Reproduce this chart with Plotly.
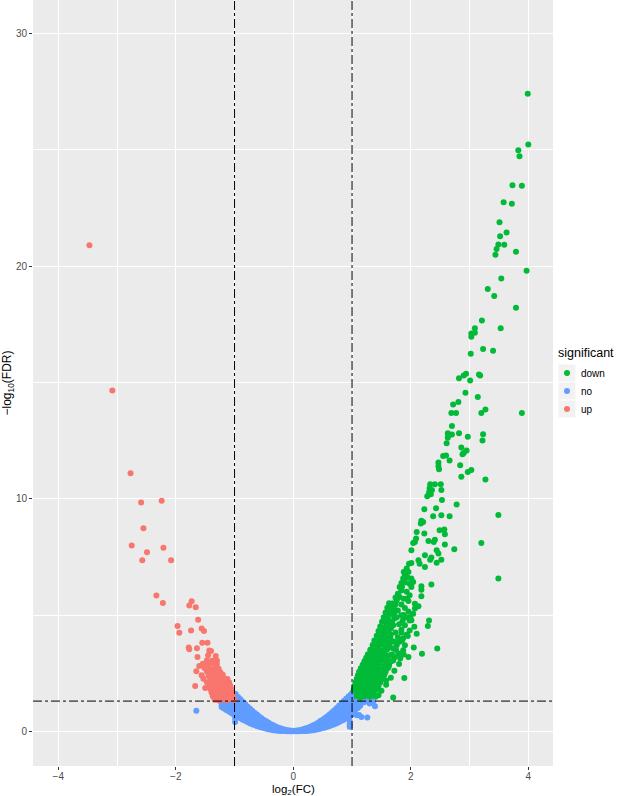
import math
import plotly.graph_objects as go

# thresholds
fc_cut = 1.0
fdr_cut = 0.05
fdr_line = -math.log10(fdr_cut)

# ---- "down" (green) ----
down_x = [3.99, 4.00, 3.83, 3.85, 3.73, 3.89, 3.58, 3.72, 3.51, 3.63, 3.52, 3.49, 3.59, 3.46, 3.79, 3.44,
          3.97, 3.54, 3.31, 3.42, 3.79, 3.21, 3.09, 3.53, 3.03, 3.09, 3.03, 3.23, 3.40, 3.02,
          2.82, 2.90, 2.94, 3.01, 3.16, 3.18, 2.93, 3.14, 2.72, 2.81, 2.69, 2.77, 3.20, 3.27, 3.89,
          2.70, 2.63, 2.64, 2.63, 2.70, 2.82, 2.97, 3.23, 3.22, 2.61, 2.86, 2.95, 2.90, 2.88, 2.55, 2.60,
          2.66, 2.47, 2.47, 2.48, 2.84, 2.97, 3.03, 2.86, 3.27, 2.33, 2.41, 2.51, 2.32, 2.36, 2.52, 2.31,
          2.28, 2.34, 2.53, 2.78, 2.43, 2.23,
          3.49, 3.20, 3.49,
          2.38, 2.52, 2.66, 2.18, 2.17, 2.21, 2.10, 2.49, 2.57, 2.23, 2.58, 2.09, 2.04, 2.07, 2.30, 2.41,
          2.39, 2.58, 2.74, 2.01, 2.44, 2.47, 2.24, 2.35, 2.33, 2.52, 2.13, 2.15, 2.44, 2.01, 2.24, 1.93,
          1.96, 1.90, 1.87, 1.84, 2.01, 2.04, 1.98, 2.01, 2.35, 2.18, 2.18, 2.18, 1.81, 1.84, 1.78, 1.81,
          1.76, 1.93, 1.98, 1.93, 1.96, 2.07, 2.13, 2.07, 1.74, 1.71, 1.73, 1.70, 1.72, 1.68, 1.70, 1.66,
          1.90, 1.96, 1.88, 1.99, 2.04, 2.01, 1.84, 2.31, 2.29, 1.98, 1.90, 1.84, 1.98, 1.62, 1.66, 1.60,
          1.93, 1.87, 1.81, 1.90, 1.76, 1.70, 1.87, 1.79, 1.73, 1.82, 1.96, 2.19, 2.45, 1.89, 1.70,
          1.72, 1.78, 1.84, 1.66, 1.74, 1.80, 1.76, 1.86, 1.92, 1.78, 1.84, 1.88, 1.74, 1.69, 1.67, 1.85,
          1.90, 1.95, 1.88, 1.97, 1.62, 1.68, 1.75, 1.85, 1.95, 1.80, 1.72, 1.66, 1.58, 1.50, 1.45, 1.55,
          1.62, 1.70, 1.88, 2.05, 2.10, 2.06,
          1.01, 1.06, 1.11, 1.17, 1.23, 1.29,
          1.02, 1.08, 1.14, 1.20, 1.27, 1.33, 1.40,
          1.01, 1.05, 1.11, 1.18, 1.24, 1.31, 1.37,
          1.03, 1.09, 1.15, 1.21, 1.28, 1.35, 1.42,
          1.04, 1.10, 1.17, 1.24, 1.30, 1.38, 1.45,
          1.06, 1.13, 1.19, 1.26, 1.33, 1.40, 1.48,
          1.08, 1.14, 1.21, 1.28, 1.35, 1.43, 1.51, 1.58,
          1.10, 1.17, 1.24, 1.31, 1.38, 1.46, 1.54,
          1.12, 1.19, 1.26, 1.33, 1.41, 1.49, 1.57,
          1.15, 1.22, 1.29, 1.36, 1.44, 1.52, 1.60,
          1.18, 1.25, 1.32, 1.39, 1.46, 1.55, 1.63,
          1.21, 1.28, 1.35, 1.42, 1.49, 1.57, 1.66,
          1.24, 1.31, 1.38, 1.45, 1.52, 1.60,
          1.27, 1.34, 1.41, 1.48, 1.56, 1.64,
          1.31, 1.38, 1.45, 1.52, 1.60,
          1.35, 1.42, 1.49, 1.56, 1.64,
          1.38, 1.45, 1.52, 1.59,
          1.42, 1.49, 1.56,
          1.45, 1.52, 1.58,
          1.48, 1.55, 1.62,
          1.51, 1.58, 1.64,
          1.54, 1.61,
          1.57, 1.64,
          1.60, 1.66,
          1.63, 1.69]
down_y = [27.41, 25.23, 24.98, 24.72, 23.48, 23.45, 22.75, 22.68, 21.89, 21.45, 21.28, 20.93, 20.92, 20.74, 20.62, 20.49,
          19.80, 19.47, 19.02, 18.72, 18.21, 17.66, 17.33, 17.33, 17.10, 17.13, 16.96, 16.44, 16.36, 16.23,
          15.18, 15.30, 15.37, 15.08, 15.34, 15.30, 14.56, 14.37, 14.05, 14.16, 13.68, 13.68, 13.68, 13.84, 13.69,
          13.13, 12.82, 12.72, 12.62, 12.76, 12.82, 12.66, 12.77, 12.50, 12.39, 12.20, 12.07, 11.97, 11.91, 11.84, 11.86,
          11.64, 11.56, 11.41, 11.27, 11.44, 11.15, 11.23, 10.95, 10.83, 10.62, 10.62, 10.62, 10.45, 10.37, 10.37, 10.27,
          10.11, 10.19, 9.95, 9.75, 9.59, 9.55,
          9.30, 8.10, 6.57,
          9.25, 9.29, 9.25, 9.05, 8.93, 9.00, 8.57, 8.65, 8.68, 8.50, 8.47, 8.29, 8.10, 8.14, 8.18, 8.24,
          8.14, 8.03, 7.83, 7.78, 7.78, 7.64, 7.57, 7.47, 7.38, 7.38, 7.35, 7.21, 7.25, 7.24, 7.07, 7.00,
          6.85, 6.71, 6.57, 6.38, 6.57, 6.42, 6.35, 6.21, 6.31, 6.24, 6.09, 5.81, 6.21, 6.06, 5.92, 5.78,
          5.63, 6.00, 5.85, 5.70, 5.60, 5.49, 5.38, 5.28, 5.45, 5.30, 5.15, 5.00, 4.85, 4.70, 4.56, 4.42,
          5.30, 5.15, 5.00, 4.92, 5.05, 4.78, 4.99, 4.77, 4.53, 4.77, 4.56, 4.37, 4.34, 4.30, 4.15, 4.00,
          4.15, 4.00, 3.85, 3.70, 3.70, 3.56, 3.49, 3.35, 3.20, 3.13, 3.20, 3.34, 3.56, 2.29, 1.46,
          3.85, 4.05, 4.25, 3.95, 4.25, 4.60, 4.90, 4.75, 4.90, 5.20, 5.45, 5.70, 5.75, 5.50, 5.20, 6.20,
          6.40, 6.60, 6.85, 7.20, 3.60, 3.30, 3.50, 3.90, 4.10, 2.90, 2.60, 2.30, 2.00, 1.75, 1.55, 2.45,
          2.75, 3.05, 3.30, 3.60, 4.20, 4.50,
          1.36, 1.33, 1.38, 1.34, 1.37, 1.33,
          1.52, 1.49, 1.53, 1.50, 1.47, 1.52, 1.49,
          1.66, 1.63, 1.67, 1.64, 1.68, 1.62, 1.66,
          1.81, 1.78, 1.82, 1.79, 1.83, 1.77, 1.80,
          1.96, 1.93, 1.97, 1.94, 1.98, 1.92, 1.95,
          2.11, 2.08, 2.12, 2.09, 2.13, 2.07, 2.10,
          2.26, 2.23, 2.27, 2.24, 2.28, 2.22, 2.25, 2.19,
          2.41, 2.38, 2.42, 2.39, 2.43, 2.37, 2.40,
          2.56, 2.53, 2.57, 2.54, 2.58, 2.52, 2.55,
          2.71, 2.68, 2.72, 2.69, 2.73, 2.67, 2.70,
          2.86, 2.83, 2.87, 2.84, 2.88, 2.82, 2.85,
          3.01, 2.98, 3.02, 2.99, 3.03, 2.97, 3.00,
          3.16, 3.13, 3.17, 3.14, 3.18, 3.12,
          3.31, 3.28, 3.32, 3.29, 3.33, 3.27,
          3.51, 3.48, 3.52, 3.49, 3.53,
          3.71, 3.68, 3.72, 3.69, 3.73,
          3.91, 3.88, 3.92, 3.89,
          4.11, 4.08, 4.12,
          4.31, 4.28, 4.32,
          4.51, 4.48, 4.52,
          4.71, 4.68, 4.72,
          4.91, 4.88,
          5.11, 5.08,
          5.31, 5.28,
          5.51, 5.48]

# ---- "no" (blue): the dense band, one column of y values per x position ----
no_band_x = [-1.22, -1.18, -1.14, -1.10, -1.06, -1.02, -0.99, -0.98, -0.94, -0.90, -0.86, -0.82, -0.78,
             -0.74, -0.70, -0.66, -0.62, -0.58, -0.54, -0.50, -0.46, -0.42, -0.38, -0.34, -0.30,
             -0.26, -0.22, -0.18, -0.14, -0.10, -0.06, -0.02,
             0.02, 0.06, 0.10, 0.14, 0.18, 0.22, 0.26, 0.30, 0.34, 0.38, 0.42, 0.46, 0.50,
             0.54, 0.58, 0.62, 0.66, 0.70, 0.74, 0.78, 0.82, 0.86, 0.90, 0.94, 0.98, 0.96]
no_band_y = [
    [1.05, 1.15, 1.25],
    [0.98, 1.08, 1.18, 1.27],
    [0.92, 1.02, 1.12, 1.22, 1.28],
    [0.86, 0.97, 1.08, 1.18, 1.28],
    [0.80, 0.92, 1.04, 1.16, 1.28],
    [0.74, 0.86, 0.98, 1.10, 1.22, 1.30],
    [0.40, 0.55],
    [0.68, 0.81, 0.94, 1.07, 1.20, 1.33, 1.46, 1.60],
    [0.62, 0.74, 0.86, 0.98, 1.10, 1.22, 1.35, 1.48],
    [0.56, 0.68, 0.80, 0.92, 1.04, 1.16, 1.27, 1.38],
    [0.50, 0.62, 0.74, 0.86, 0.97, 1.08, 1.18, 1.27],
    [0.45, 0.56, 0.67, 0.78, 0.88, 0.98, 1.08, 1.17],
    [0.40, 0.50, 0.60, 0.70, 0.80, 0.90, 1.00, 1.07],
    [0.35, 0.45, 0.55, 0.65, 0.75, 0.85, 0.98],
    [0.31, 0.40, 0.49, 0.58, 0.67, 0.77, 0.89],
    [0.27, 0.36, 0.45, 0.54, 0.63, 0.72, 0.80],
    [0.23, 0.32, 0.41, 0.50, 0.59, 0.66, 0.72],
    [0.20, 0.29, 0.38, 0.47, 0.56, 0.64],
    [0.17, 0.25, 0.33, 0.41, 0.49, 0.56],
    [0.14, 0.22, 0.30, 0.38, 0.45, 0.49],
    [0.11, 0.19, 0.27, 0.35, 0.43],
    [0.09, 0.16, 0.23, 0.30, 0.37],
    [0.07, 0.13, 0.19, 0.25, 0.31],
    [0.05, 0.11, 0.17, 0.22, 0.26],
    [0.04, 0.09, 0.14, 0.21],
    [0.03, 0.08, 0.12, 0.17],
    [0.02, 0.07, 0.13],
    [0.01, 0.05, 0.10],
    [0.01, 0.04, 0.07],
    [0.00, 0.03, 0.05],
    [0.00, 0.02, 0.04],
    [0.00, 0.01, 0.03],
    [0.00, 0.01, 0.03],
    [0.00, 0.02, 0.04],
    [0.00, 0.03, 0.05],
    [0.01, 0.04, 0.07],
    [0.01, 0.05, 0.10],
    [0.02, 0.07, 0.13],
    [0.03, 0.08, 0.12, 0.17],
    [0.04, 0.09, 0.14, 0.21],
    [0.05, 0.11, 0.17, 0.26],
    [0.07, 0.13, 0.19, 0.25, 0.31],
    [0.09, 0.16, 0.23, 0.30, 0.37],
    [0.11, 0.19, 0.27, 0.35, 0.44],
    [0.14, 0.22, 0.30, 0.38, 0.50],
    [0.17, 0.25, 0.33, 0.41, 0.49, 0.57],
    [0.20, 0.29, 0.38, 0.47, 0.56, 0.65],
    [0.23, 0.32, 0.41, 0.50, 0.59, 0.66, 0.73],
    [0.27, 0.36, 0.45, 0.54, 0.63, 0.72, 0.82],
    [0.31, 0.40, 0.49, 0.58, 0.67, 0.77, 0.91],
    [0.35, 0.45, 0.55, 0.65, 0.75, 0.85, 1.00],
    [0.40, 0.50, 0.60, 0.70, 0.80, 0.90, 1.00, 1.10],
    [0.45, 0.56, 0.67, 0.78, 0.88, 0.98, 1.08, 1.20],
    [0.50, 0.62, 0.74, 0.86, 0.97, 1.08, 1.18, 1.30],
    [0.56, 0.68, 0.80, 0.92, 1.04, 1.16, 1.28, 1.40],
    [0.62, 0.74, 0.86, 0.98, 1.10, 1.22, 1.36, 1.50],
    [0.68, 0.81, 0.94, 1.07, 1.20, 1.33, 1.46, 1.58],
    [0.20, 0.30, 0.45],
]
# ---- "no" (blue): scattered points ----
no_x = [1.03, 1.05, 1.08, 1.10, 1.12, 1.16, 1.20, 1.25, 1.26, 1.30, 1.36, 1.39, 1.08, 1.14, 1.02, 1.04, 1.06, -1.65]
no_y = [1.20, 0.90, 1.22, 1.00, 0.70, 0.62, 1.25, 1.28, 0.59, 1.20, 1.28, 1.08, 0.69, 1.10, 0.75, 1.05, 1.28, 0.89]

# ---- "up" (red) ----
up_x = [-3.47, -3.08, -2.77, -2.59, -2.24, -2.55, -2.75, -2.49, -2.21, -2.57, -2.08, -2.33, -2.22,
        -1.73, -1.77, -1.66, -1.62, -1.97, -1.94, -1.74, -1.56, -1.52, -1.55, -1.46, -1.78, -1.77,
        -1.64, -1.43, -1.40, -1.63, -1.45, -1.32, -1.30, -1.65, -1.67, -1.50, -1.60,
        -1.34, -1.27, -1.20, -1.13, -1.06, -1.01,
        -1.37, -1.29, -1.22, -1.15, -1.08, -1.02,
        -1.39, -1.31, -1.24, -1.17, -1.10, -1.03,
        -1.41, -1.33, -1.26, -1.19, -1.12, -1.05,
        -1.43, -1.35, -1.28, -1.21, -1.14, -1.07,
        -1.47, -1.38, -1.30, -1.22, -1.15, -1.09,
        -1.53, -1.41, -1.33, -1.25, -1.18, -1.12,
        -1.56, -1.44, -1.36, -1.28, -1.20,
        -1.47, -1.39, -1.31, -1.24,
        -1.51, -1.42, -1.34, -1.27,
        -1.54, -1.45, -1.37, -1.30,
        -1.47, -1.38, -1.33]
up_y = [20.90, 14.65, 11.10, 9.84, 9.91, 8.73, 7.99, 7.70, 7.89, 7.35, 7.35, 5.84, 5.52,
        5.59, 5.41, 5.33, 4.80, 4.53, 4.24, 4.34, 4.42, 4.31, 3.81, 3.81, 3.60, 3.53,
        3.57, 3.48, 3.45, 3.20, 3.27, 3.24, 3.05, 2.58, 1.95, 1.86, 2.81,
        1.36, 1.33, 1.37, 1.34, 1.38, 1.35,
        1.51, 1.48, 1.52, 1.49, 1.53, 1.50,
        1.66, 1.63, 1.67, 1.64, 1.68, 1.65,
        1.81, 1.78, 1.82, 1.79, 1.83, 1.80,
        1.96, 1.93, 1.97, 1.94, 1.98, 1.95,
        2.11, 2.08, 2.12, 2.09, 2.13, 2.10,
        2.26, 2.23, 2.27, 2.24, 2.28, 2.25,
        2.41, 2.38, 2.42, 2.39, 2.43,
        2.56, 2.53, 2.57, 2.54,
        2.71, 2.68, 2.72, 2.69,
        2.91, 2.88, 2.92, 2.89,
        3.06, 3.03, 3.07]

x_ticks = [-4, -2, 0, 2, 4]
y_ticks = [0, 10, 20, 30]
legend_labels = ["down", "no", "up"]
legend_title = "significant"
x_title = "log<sub>2</sub>(FC)"
y_title = "\u2212log<sub>10</sub>(FDR)"

colors = {"down": "#00BA38", "no": "#619CFF", "up": "#F8766D"}

# flatten the blue band table
blue_x = [bx for bx, col in zip(no_band_x, no_band_y) for _ in col] + no_x
blue_y = [v for col in no_band_y for v in col] + no_y

fig = go.Figure()
fig.add_trace(go.Scatter(x=down_x, y=down_y, mode="markers", name="down", showlegend=False,
                         marker=dict(color=colors["down"], size=6, line=dict(width=0))))
fig.add_trace(go.Scatter(x=blue_x, y=blue_y, mode="markers", name="no", showlegend=False,
                         marker=dict(color=colors["no"], size=6, line=dict(width=0))))
fig.add_trace(go.Scatter(x=up_x, y=up_y, mode="markers", name="up", showlegend=False,
                         marker=dict(color=colors["up"], size=6, line=dict(width=0))))

line_style = dict(color="black", width=1, dash="dashdot")
for xv in (-fc_cut, fc_cut):
    fig.add_shape(type="line", x0=xv, x1=xv, y0=0, y1=1, xref="x", yref="y domain", line=line_style)
fig.add_shape(type="line", x0=0, x1=1, y0=fdr_line, y1=fdr_line, xref="x domain", yref="y", line=line_style)

# ---- manual ggplot-style legend (paper coordinates) ----
W, H = 622, 796
ML, MR, MT, MB = 33, 69, 0, 30
pw, ph = W - ML - MR, H - MT - MB


def px_x(px):
    return (px - ML) / pw


def px_y(py):
    return (H - MB - py) / ph


fig.add_annotation(text=legend_title, x=px_x(556), y=px_y(353), xref="paper", yref="paper",
                   xanchor="left", yanchor="middle", showarrow=False,
                   font=dict(size=12.5, color="black"))
key_cy = [373, 391, 409]
key_cx = 567
for lab, cy in zip(legend_labels, key_cy):
    fig.add_shape(type="rect", xref="paper", yref="paper",
                  x0=px_x(key_cx - 8.5), x1=px_x(key_cx + 8.5), y0=px_y(cy + 8.5), y1=px_y(cy - 8.5),
                  fillcolor="#F2F2F2", line=dict(width=0), layer="below")
    fig.add_shape(type="circle", xref="paper", yref="paper",
                  x0=px_x(key_cx - 3), x1=px_x(key_cx + 3), y0=px_y(cy + 3), y1=px_y(cy - 3),
                  fillcolor=colors[lab], line=dict(width=0))
    fig.add_annotation(text=lab, x=px_x(579), y=px_y(cy), xref="paper", yref="paper",
                       xanchor="left", yanchor="middle", showarrow=False,
                       font=dict(size=10, color="black"))

# x-axis title placed under the tick labels
fig.add_annotation(text=x_title, x=0.5, y=px_y(790), xref="paper", yref="paper",
                   xanchor="center", yanchor="middle", showarrow=False,
                   font=dict(size=11.5, color="black"))

font_family = "Liberation Sans, Arial, sans-serif"
fig.update_layout(
    width=W, height=H,
    margin=dict(l=ML, r=MR, t=MT, b=MB, autoexpand=False),
    paper_bgcolor="white", plot_bgcolor="#EBEBEB",
    font=dict(family=font_family, size=11, color="black"),
    showlegend=False,
    xaxis=dict(range=[-4.43, 4.42], tickmode="array", tickvals=x_ticks,
               ticktext=[("\u2212" + str(abs(v))) if v < 0 else str(v) for v in x_ticks],
               showgrid=True, gridcolor="white", gridwidth=1.1,
               minor=dict(dtick=1, tick0=-5, showgrid=True, gridcolor="white", gridwidth=0.5),
               zeroline=False, showline=False,
               ticks="outside", ticklen=3, tickcolor="#333333", tickwidth=1,
               ticklabelstandoff=-2,
               tickfont=dict(size=10, color="#4D4D4D")),
    yaxis=dict(range=[-1.49, 31.44], tickmode="array", tickvals=y_ticks,
               ticktext=[str(v) for v in y_ticks],
               showgrid=True, gridcolor="white", gridwidth=1.1,
               minor=dict(dtick=5, tick0=-5, showgrid=True, gridcolor="white", gridwidth=0.5),
               zeroline=False, showline=False,
               ticks="outside", ticklen=3, tickcolor="#333333", tickwidth=1,
               tickfont=dict(size=10, color="#4D4D4D"),
               title=dict(text=y_title, font=dict(size=12, color="black"), standoff=1)),
)

fig.write_html("out.html", config={"displayModeBar": False},
               post_script="document.body.style.margin='0';")
